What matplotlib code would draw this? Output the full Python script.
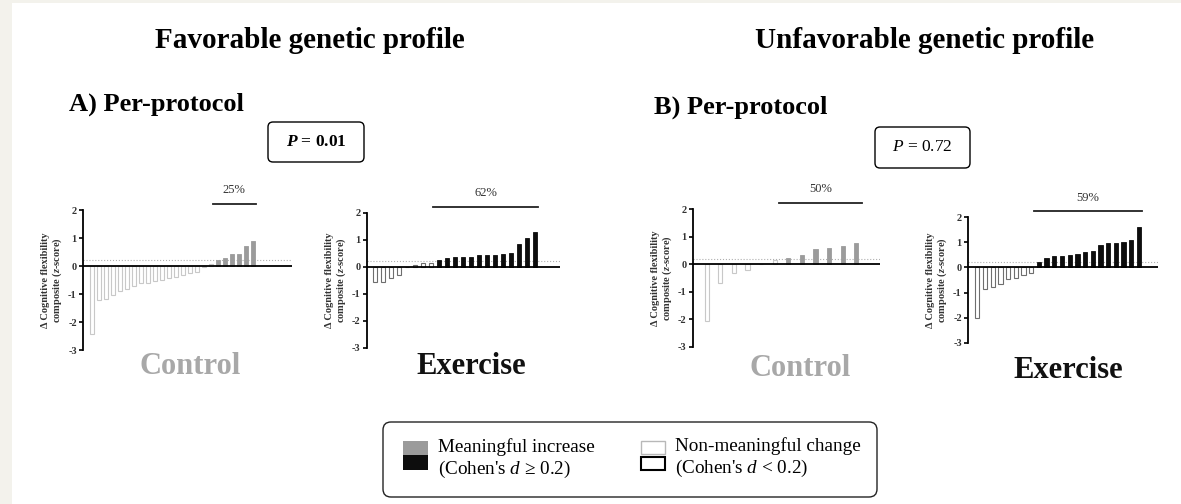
import numpy as np
import matplotlib
matplotlib.use("Agg")
import matplotlib.pyplot as plt
from matplotlib.patches import Rectangle, FancyBboxPatch

plt.rcParams['font.family'] = ['Liberation Serif', 'DejaVu Serif']
plt.rcParams['mathtext.fontset'] = 'custom'
plt.rcParams['mathtext.rm'] = 'Liberation Serif'
plt.rcParams['mathtext.it'] = 'Liberation Serif:italic'
plt.rcParams['mathtext.bf'] = 'Liberation Serif:bold'
plt.rcParams['mathtext.bfit'] = 'Liberation Serif:italic:bold'

# change in cognitive flexibility composite (z-score), one bar per participant
ctrl_fav = [-2.43, -1.20, -1.18, -1.05, -0.90, -0.82, -0.70, -0.62, -0.60, -0.55,
            -0.50, -0.42, -0.38, -0.33, -0.25, -0.20, -0.02, 0.08, 0.20, 0.28,
            0.42, 0.42, 0.72, 0.90]
ex_fav = [-0.57, -0.57, -0.43, -0.30, 0.0, 0.05, 0.12, 0.15, 0.25, 0.33, 0.35,
          0.37, 0.37, 0.42, 0.42, 0.45, 0.48, 0.52, 0.83, 1.05, 1.30]
ctrl_unfav = [-2.08, -0.68, -0.34, -0.23, 0.0, 0.15, 0.22, 0.33, 0.55, 0.57,
              0.65, 0.77]
ex_unfav = [-2.00, -0.87, -0.77, -0.64, -0.47, -0.41, -0.32, -0.21, 0.23, 0.37,
            0.44, 0.46, 0.50, 0.53, 0.60, 0.64, 0.90, 0.96, 0.98, 1.02, 1.10, 1.60]

pct_labels = ['25%', '62%', '50%', '59%']
group_names = ['Control', 'Exercise', 'Control', 'Exercise']
p_values = ['0.01', '0.72']
threshold = 0.2
yticks = [-3, -2, -1, 0, 1, 2]

W, H = 1181, 504
fig = plt.figure(figsize=(W / 100, H / 100), dpi=100)
fig.patch.set_facecolor('white')

# panel geometry in pixels: spine x, y(2) px, y(-3) px, right end, first bar x, bar step, width
panels = [
    (ctrl_fav, 83, 210, 350, 292, 91.7, 7.0, 0.57, 'ctrl'),
    (ex_fav, 367, 212.7, 347.7, 560, 375, 8.0, 0.55, 'ex'),
    (ctrl_unfav, 692.7, 209, 346.7, 880, 706.7, 13.6, 0.32, 'ctrl'),
    (ex_unfav, 968, 217.3, 342.7, 1158, 977.3, 7.7, 0.55, 'ex'),
]
styles = {
    'ctrl': dict(fill='#9b9b9b', edge_nm='#c8c8c8', label='#a8a8a8'),
    'ex': dict(fill='#0d0d0d', edge_nm='#6e6e6e', label='#111111'),
}

for i, (vals, sx, ytop, ybot, rx, x0, dx, bw, kind) in enumerate(panels):
    st = styles[kind]
    ax = fig.add_axes([sx / W, 1 - ybot / H, (rx - sx) / W, (ybot - ytop) / H])
    ax.set_facecolor('none')
    vals = np.array(vals)
    x = np.arange(len(vals))
    meaningful = vals >= threshold
    ax.bar(x[meaningful], vals[meaningful], width=bw, color=st['fill'],
           edgecolor=st['fill'], linewidth=0.6, zorder=3)
    ax.bar(x[~meaningful], vals[~meaningful], width=bw, color='white',
           edgecolor=st['edge_nm'], linewidth=0.8, zorder=3)
    ax.axhline(0, color='black', lw=1.3, zorder=4)
    ax.axhline(threshold, color='#b0b0b0', lw=0.8, ls=':', zorder=2)
    ax.set_xlim((sx - x0) / dx, (rx - x0) / dx)
    ax.set_ylim(-3, 2)
    for s in ['top', 'right', 'bottom']:
        ax.spines[s].set_visible(False)
    ax.spines['left'].set_linewidth(1.3)
    ax.set_xticks([])
    ax.set_yticks(yticks)
    ax.set_yticklabels([str(t) for t in yticks], fontsize=7.5, fontweight='bold', color='#333333')
    ax.tick_params(axis='y', length=3, width=1.2, pad=1.5)
    ax.set_ylabel('\u0394 Cognitive flexibility\ncomposite ($\\mathbfit{z}$-score)',
                  fontsize=7.5, fontweight='bold', color='#333333', labelpad=3,
                  linespacing=1.0)
    first = x[meaningful].min()
    last = x[meaningful].max()
    # bracket sits about 6 px above the top of the axis
    ybr = 2 + 6 / ((ybot - ytop) / 5)
    ax.plot([first - 0.7, last + 0.4], [ybr, ybr], color='#222222', lw=1.3, clip_on=False)
    ax.text((first - 0.7 + last + 0.4) / 2, ybr + 0.3, pct_labels[i], ha='center',
            va='bottom', fontsize=9, color='#333333')

# overlay in pixel coordinates for titles, boxes and legend
ov = fig.add_axes([0, 0, 1, 1])
ov.set_xlim(0, W)
ov.set_ylim(H, 0)
ov.axis('off')
ov.set_zorder(-1)

ov.add_patch(Rectangle((0, 0), W, 3, fc='#f3f2ec', ec='none'))
ov.add_patch(Rectangle((0, 0), 12, H, fc='#f3f2ec', ec='none'))

ov.text(310, 40, 'Favorable genetic profile', ha='center', va='center',
        fontsize=21, fontweight='bold')
ov.text(925, 40, 'Unfavorable genetic profile', ha='center', va='center',
        fontsize=21, fontweight='bold')
ov.text(69, 104, 'A) Per-protocol', ha='left', va='center', fontsize=19, fontweight='bold')
ov.text(654, 107, 'B) Per-protocol', ha='left', va='center', fontsize=19, fontweight='bold')

ov.add_patch(FancyBboxPatch((268, 122), 96, 40, boxstyle='round,pad=0,rounding_size=5',
                            fc='white', ec='black', lw=1.0))
ov.text(316, 142, '$\\mathbfit{P}$ = ' + p_values[0], ha='center', va='center',
        fontsize=12.5, fontweight='bold')
ov.add_patch(FancyBboxPatch((875, 127), 95, 41, boxstyle='round,pad=0,rounding_size=5',
                            fc='white', ec='black', lw=1.0))
ov.text(922, 147, '$\\mathit{P}$ = ' + p_values[1], ha='center', va='center',
        fontsize=12.5)

name_pos = [(190, 367), (471, 367), (800, 369), (1068, 370)]
for (nx, ny), name, (_, _, _, _, _, _, _, _, kind) in zip(name_pos, group_names, panels):
    ov.text(nx, ny, name, ha='center', va='center', fontsize=22, fontweight='bold',
            color=styles[kind]['label'])

# legend
ov.add_patch(FancyBboxPatch((383, 422), 494, 75, boxstyle='round,pad=0,rounding_size=8',
                            fc='white', ec='#222222', lw=1.0))
ov.add_patch(Rectangle((403, 441), 25, 14, fc='#9b9b9b', ec='none'))
ov.add_patch(Rectangle((403, 455), 25, 15, fc='#0d0d0d', ec='none'))
ov.add_patch(Rectangle((641, 441), 24, 13, fc='white', ec='#b8b8b8', lw=1.0))
ov.add_patch(Rectangle((641, 457), 24, 13, fc='white', ec='black', lw=1.5))
ov.text(438, 447, 'Meaningful increase', ha='left', va='center', fontsize=13.8)
ov.text(438, 469, "(Cohen's $\\mathit{d}$ \u2265 0.2)", ha='left', va='center', fontsize=13.8)
ov.text(675, 446, 'Non-meaningful change', ha='left', va='center', fontsize=13.8)
ov.text(675, 468, "(Cohen's $\\mathit{d}$ < 0.2)", ha='left', va='center', fontsize=13.8)

fig.savefig('out.png', dpi=100, facecolor=fig.get_facecolor())
